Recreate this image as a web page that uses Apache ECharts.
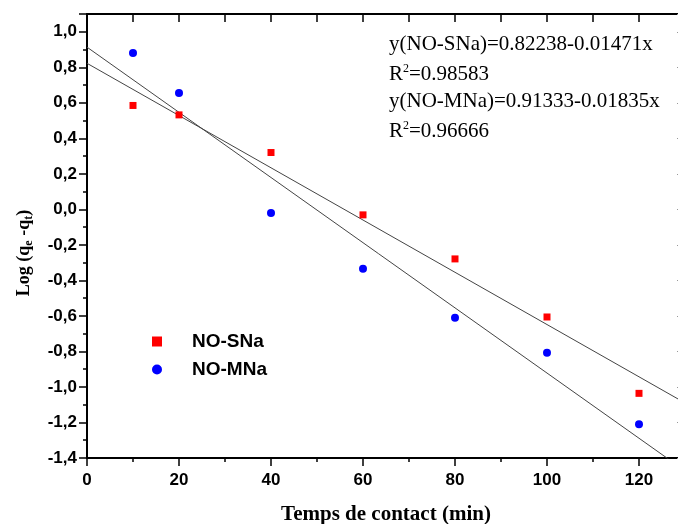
<!DOCTYPE html>
<html>
<head>
<meta charset="utf-8">
<script src="https://cdn.jsdelivr.net/npm/echarts@6/dist/echarts.min.js"></script>
<style>html,body{margin:0;padding:0;background:#fff;}#c{width:678px;height:524px;}</style>
</head>
<body>
<div id="c"></div>
<script>
// Data
var times = [10, 20, 40, 60, 80, 100, 120];
var snaValues = [0.585, 0.532, 0.320, -0.031, -0.279, -0.606, -1.036];
var mnaValues = [0.880, 0.655, -0.020, -0.335, -0.611, -0.808, -1.210];
// Fit coefficients as printed on the chart: y = a + b x
var snaFit = [0.82238, -0.01471];
var mnaFit = [0.91333, -0.01835];
var fitRange = [0, 130];
var annotations = ['y(NO-SNa)=0.82238-0.01471x', 'R{sup|2}=0.98583', 'y(NO-MNa)=0.91333-0.01835x', 'R{sup|2}=0.96666'];

function pairs(xs, ys) { return xs.map(function (x, i) { return [x, ys[i]]; }); }
function fitLine(c) { return fitRange.map(function (x) { return [x, c[0] + c[1] * x]; }); }

var chart = echarts.init(document.getElementById('c'), null, { renderer: 'canvas' });
var labelFont = { fontFamily: 'Liberation Sans, Arial, sans-serif', fontWeight: 'bold', fontSize: 17, color: '#000' };
var axisLine = { show: true, onZero: false, lineStyle: { color: '#000', width: 2 } };

chart.setOption({
  animation: false,
  backgroundColor: '#fff',
  grid: { left: 87, top: 14, right: -7, bottom: 66, containLabel: false, outerBoundsMode: 'none' },
  legend: {
    data: [{ name: 'NO-SNa', icon: 'rect' }, { name: 'NO-MNa', icon: 'circle' }],
    orient: 'vertical',
    left: 152, top: 332,
    padding: 0,
    itemWidth: 10, itemHeight: 10, itemGap: 9,
    textStyle: { fontFamily: 'Liberation Sans, Arial, sans-serif', fontWeight: 'bold', fontSize: 19, color: '#000', padding: [0, 0, 0, 25] }
  },
  xAxis: [{
    type: 'value', min: 0, max: 130, interval: 20,
    axisLine: axisLine,
    axisTick: { show: true, length: 8, lineStyle: { color: '#000', width: 1.5 } },
    minorTick: { show: true, splitNumber: 2, length: 4, lineStyle: { color: '#000', width: 1.5 } },
    splitLine: { show: false },
    axisLabel: Object.assign({ margin: 14, showMaxLabel: false, formatter: function (v) { return v % 20 === 0 ? String(v) : ''; } }, labelFont),
    name: 'Temps de contact (min)', nameLocation: 'middle', nameGap: 46,
    nameTextStyle: { fontFamily: 'Liberation Serif, Times New Roman, serif', fontWeight: 'bold', fontSize: 21, color: '#000' }
  }, {
    type: 'value', position: 'top', min: 0, max: 130, interval: 10,
    axisLine: axisLine,
    axisTick: { show: true, inside: true, length: 8, lineStyle: { color: '#000', width: 1.5 } },
    axisLabel: { show: false }, splitLine: { show: false }
  }],
  yAxis: [{
    type: 'value', min: -1.4, max: 1.1, interval: 0.2,
    axisLine: axisLine,
    axisTick: { show: true, length: 8, lineStyle: { color: '#000', width: 1.5 } },
    minorTick: { show: true, splitNumber: 2, length: 4, lineStyle: { color: '#000', width: 1.5 } },
    splitLine: { show: false },
    axisLabel: Object.assign({ margin: 10, showMaxLabel: false, formatter: function (v) { return v.toFixed(1).replace('.', ','); } }, labelFont),
    name: 'Log (q{sub|e} -q{sub|t})', nameLocation: 'middle', nameGap: 52, nameRotate: 90,
    nameTextStyle: {
      fontFamily: 'Liberation Serif, Times New Roman, serif', fontWeight: 'bold', fontSize: 18, color: '#000',
      padding: [0, 34, 0, 0],
      rich: { sub: { fontFamily: 'Liberation Serif, Times New Roman, serif', fontWeight: 'bold', fontSize: 12, color: '#000', verticalAlign: 'bottom', padding: [10, 0, 0, 0] } }
    }
  }, {
    type: 'value', position: 'right', min: -1.4, max: 1.1, interval: 0.2,
    axisLine: axisLine,
    axisTick: { show: true, inside: true, length: 8, lineStyle: { color: '#999', width: 1 } },
    axisLabel: { show: false }, splitLine: { show: false }
  }],
  graphic: annotations.map(function (t, i) {
    return {
      type: 'text', left: 389, top: 34 + i * 28.5, silent: true,
      style: {
        text: t, fill: '#000',
        font: '21px "Liberation Serif", "Times New Roman", serif',
        rich: { sup: { fontSize: 12, fontFamily: 'Liberation Serif, Times New Roman, serif', verticalAlign: 'top', padding: [0, 0, 12, 0], fill: '#000' } }
      }
    };
  }),
  series: [
    { name: 'NO-SNa fit', type: 'line', data: fitLine(snaFit), showSymbol: false, symbol: 'none', lineStyle: { color: '#444', width: 1 }, clip: true, silent: true, z: 1 },
    { name: 'NO-MNa fit', type: 'line', data: fitLine(mnaFit), showSymbol: false, symbol: 'none', lineStyle: { color: '#444', width: 1 }, clip: true, silent: true, z: 1 },
    { name: 'NO-SNa', type: 'scatter', data: pairs(times, snaValues), symbol: 'rect', symbolSize: 7, itemStyle: { color: '#ff0000', opacity: 1 }, z: 3 },
    { name: 'NO-MNa', type: 'scatter', data: pairs(times, mnaValues), symbol: 'circle', symbolSize: 8, itemStyle: { color: '#0000ff', opacity: 1 }, z: 3 }
  ]
});
</script>
</body>
</html>
